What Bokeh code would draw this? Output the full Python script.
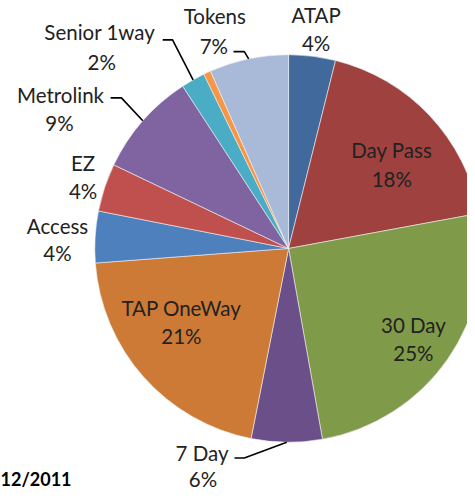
import math
from bokeh.plotting import figure
from bokeh.models import Range1d, ColumnDataSource
from bokeh.core.properties import value
from bokeh.embed import file_html
from bokeh.resources import INLINE

# ---- data (clockwise from 12 o'clock) ----
categories = ["ATAP", "Day Pass", "30 Day", "7 Day", "TAP OneWay", "Access",
              "EZ", "Metrolink", "Senior 1way", "Other", "Tokens"]
shares = [3.9, 18.2, 25.1, 5.9, 20.7, 4.3, 4.0, 8.7, 2.0, 0.6, 6.6]
colors = ["#41699B", "#9F413F", "#7F9A48", "#6A4F88", "#CC7A36", "#4E80BD",
          "#C0504D", "#8064A2", "#4BACC6", "#F79646", "#A9BAD8"]
footer_text = "12/2011"

# ---- layout (reference pixel coordinates, scaled to the figure) ----
W, H = 467, 491
SX, SY = W / 475.0, H / 499.0
S = (SX + SY) / 2.0
def X(px): return px * SX
def Y(py): return H - py * SY

CX, CY, R = 293, 252, 197
label_pos = {
    "ATAP": (321, 15, 321, 43),
    "Day Pass": (398, 152, 398, 181),
    "30 Day": (420, 330, 420, 358),
    "7 Day": (205, 460, 206, 486),
    "TAP OneWay": (184, 313, 184, 341),
    "Access": (58, 229, 58, 257),
    "EZ": (84, 165, 84, 194),
    "Metrolink": (61, 96, 60, 125),
    "Senior 1way": (101, 32, 103, 62),
    "Tokens": (218, 16, 217, 46),
}
leaders = {
    "Tokens": (237, 248, 52),
    "Senior 1way": (165, 175, 40),
    "Metrolink": (112, 123, 99),
    "7 Day": (238, 248, 465),
}

total = sum(shares)
cum = 0.0
starts, ends, mids = [], [], []
for v in shares:
    a0 = cum / total * 360.0
    cum += v
    a1 = cum / total * 360.0
    starts.append(90.0 - a1)
    ends.append(90.0 - a0)
    mids.append((a0 + a1) / 2.0)

p = figure(width=W, height=H, output_backend="svg", toolbar_location=None,
           x_range=Range1d(0, W), y_range=Range1d(0, H), min_border=0)
p.axis.visible = False
p.grid.visible = False
p.outline_line_color = None
p.background_fill_color = "white"
p.border_fill_color = "white"

src = ColumnDataSource(dict(start=starts, end=ends, color=colors, cat=categories))
p.wedge(x=X(CX), y=Y(CY), radius=R * S, start_angle="start", end_angle="end",
        start_angle_units="deg", end_angle_units="deg",
        fill_color="color", line_color="#f0f0f0", line_width=0.6, source=src)

for cat, (x0, x1, ly) in leaders.items():
    i = categories.index(cat)
    ang = math.radians(mids[i])
    ex = X(CX) + R * S * math.sin(ang)
    ey = Y(CY) + R * S * math.cos(ang)
    p.line([X(x0), X(x1), ex], [Y(ly), Y(ly), ey],
           line_color="black", line_width=1.6)

nx, ny, nt, qx, qy, qt = [], [], [], [], [], []
for i, cat in enumerate(categories):
    if cat not in label_pos:
        continue
    a, b, c, d = label_pos[cat]
    nx.append(X(a)); ny.append(Y(b)); nt.append(cat)
    qx.append(X(c)); qy.append(Y(d)); qt.append(f"{round(shares[i] / total * 100)}%")
for xs, ys, ts in ((nx, ny, nt), (qx, qy, qt)):
    p.text(x=xs, y=ys, text=ts, text_font=value("Lato"), text_font_size="20.5px",
           text_color="#222222", text_align="center", text_baseline="middle")

p.text(x=[X(0)], y=[2], text=[footer_text], text_font=value("Lato"),
       text_font_size="18px", text_font_style="bold", text_color="black",
       text_align="left", text_baseline="bottom")

open("out.html", "w").write(file_html(p, INLINE))
